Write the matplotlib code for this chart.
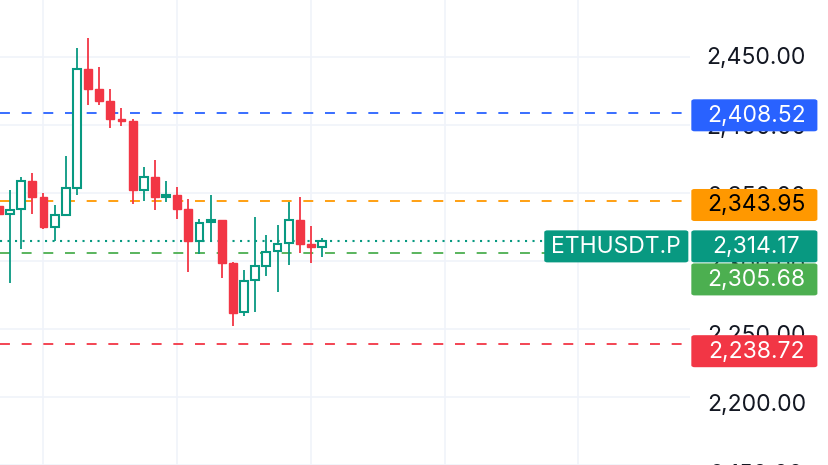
import matplotlib.pyplot as plt
from matplotlib.patches import Rectangle, FancyBboxPatch

plt.rcParams['font.family'] = ['Inter', 'DejaVu Sans']

# ---------------- data ----------------
opens = [2340.5, 2334.7, 2338.3, 2358.5, 2347.0, 2324.6, 2333.3, 2353.5, 2440.6, 2426.2,
         2417.6, 2403.9, 2402.4, 2352.0, 2361.4, 2347.0, 2348.4, 2338.3, 2314.5, 2328.2,
         2329.7, 2298.7, 2262.7, 2285.7, 2296.5, 2307.3, 2313.1, 2329.7, 2312.4, 2310.2]
highs = [2344.0, 2352.0, 2361.4, 2364.3, 2349.9, 2341.2, 2377.2, 2456.5, 2463.7, 2442.1,
         2426.2, 2412.5, 2403.9, 2368.6, 2374.3, 2358.5, 2354.2, 2345.5, 2330.4, 2348.4,
         2330.0, 2299.4, 2292.9, 2331.8, 2318.9, 2326.1, 2343.4, 2347.0, 2325.4, 2316.7]
lows = [2331.0, 2283.6, 2308.8, 2334.7, 2323.2, 2314.5, 2332.6, 2348.4, 2414.7, 2414.7,
        2397.4, 2398.8, 2341.9, 2344.1, 2337.6, 2343.4, 2330.4, 2291.5, 2305.2, 2314.5,
        2287.2, 2251.9, 2259.1, 2262.7, 2288.6, 2277.1, 2297.2, 2305.9, 2298.7, 2303.0]
closes = [2334.7, 2337.6, 2358.5, 2347.0, 2324.6, 2333.3, 2353.5, 2440.6, 2426.2, 2417.6,
          2403.9, 2402.4, 2352.0, 2361.4, 2347.0, 2348.4, 2338.3, 2314.5, 2327.5, 2329.7,
          2298.7, 2261.9, 2285.0, 2296.5, 2306.6, 2312.4, 2329.7, 2312.4, 2310.2, 2314.17]

tick_prices = [2150, 2200, 2250, 2300, 2350, 2400, 2450]
grid_x = [4, 16, 28, 40, 52]

level_prices = [2408.52, 2343.95, 2305.68, 2238.72]
level_colors = ['#2962FF', '#FF9800', '#4CAF50', '#F23645']
level_text = ['white', 'black', 'white', 'white']

symbol = 'ETHUSDT.P'
last_price = closes[-1]

UP = '#089981'
DOWN = '#F23645'

W, H = 828, 465
YMIN, YMAX = 2156.8, 2491.8
fig = plt.figure(figsize=((W + 0.4) / 100, (H + 0.4) / 100), dpi=100)
fig.patch.set_facecolor('white')
ax = fig.add_axes([0, 0, 690 / W, 1])
ax.set_xlim(0.1, 62.04)
ax.set_ylim(YMIN, YMAX)
for s in ax.spines.values():
    s.set_visible(False)
ax.set_xticks(grid_x)
ax.set_yticks(tick_prices)
ax.tick_params(length=0, labelbottom=False, labelleft=False)
ax.grid(True, color='#F0F3FA', linewidth=1.2)
ax.set_axisbelow(True)

# ---------------- candles ----------------
bw = 0.7
for i, (o, h, l, c) in enumerate(zip(opens, highs, lows, closes)):
    if c >= o:
        ax.vlines(i, l, h, color=UP, linewidth=1.3, zorder=3)
        ax.add_patch(Rectangle((i - bw / 2, o), bw, max(c - o, 0.6),
                               facecolor='white', edgecolor=UP, linewidth=1.5, zorder=4))
    else:
        ax.vlines(i, l, h, color=DOWN, linewidth=1.3, zorder=3)
        ax.add_patch(Rectangle((i - bw / 2, c), bw, max(o - c, 0.6),
                               facecolor=DOWN, edgecolor=DOWN, linewidth=1.0, zorder=4))

# ---------------- levels ----------------
for p, col in zip(level_prices, level_colors):
    ax.axhline(p, color=col, linewidth=1.3, dashes=(5.5, 6.5), zorder=2)
ax.axhline(last_price, color=UP, linewidth=1.5, dashes=(1, 2.6), zorder=2)

# ---------------- price scale ----------------
def ypix(p):
    # pixel height from the bottom of the figure
    return (p - YMIN) / (YMAX - YMIN) * H

label_x = 756
fs = 16.5
for p in tick_prices:
    fig.text(label_x / W, ypix(p) / H, f'{p:,.2f}', ha='center', va='center',
             fontsize=fs, color='#131722', zorder=2)

boxes = list(zip(level_prices, level_colors, level_text))
boxes.append((last_price, UP, 'white'))
boxes.sort(key=lambda b: -b[0])

bh = 32
prev = None
for p, col, tcol in boxes:
    yc = ypix(p)
    if prev is not None and yc > prev - bh - 1:
        yc = prev - bh - 1
    prev = yc
    box = FancyBboxPatch((691 / W, (yc - bh / 2) / H), 126 / W, bh / H,
                         boxstyle='round,pad=0,rounding_size=0.004',
                         transform=fig.transFigure, facecolor=col, edgecolor='none', zorder=3)
    fig.add_artist(box)
    fig.text(label_x / W, yc / H, f'{p:,.2f}', ha='center', va='center',
             fontsize=fs, color=tcol, zorder=4)
    if p == last_price:
        sb = FancyBboxPatch((544 / W, (yc - bh / 2) / H), 144 / W, bh / H,
                            boxstyle='round,pad=0,rounding_size=0.004',
                            transform=fig.transFigure, facecolor=UP, edgecolor='none', zorder=3)
        fig.add_artist(sb)
        fig.text(616 / W, yc / H, symbol, ha='center', va='center',
                 fontsize=fs, color='white', zorder=4)

fig.savefig('out.png', dpi=100, facecolor='white')
